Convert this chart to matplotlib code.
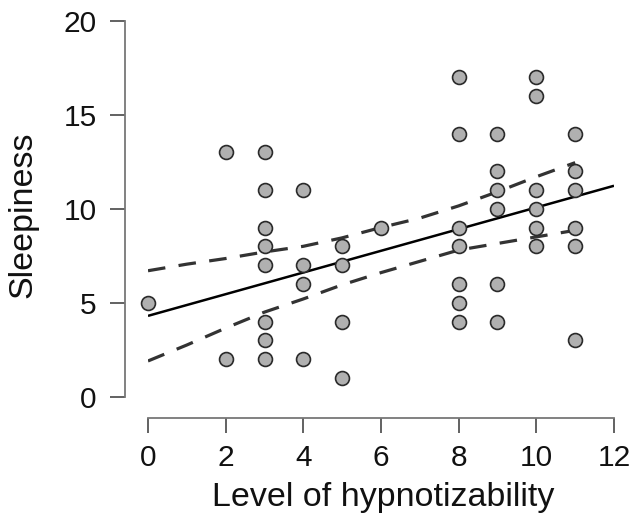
import matplotlib
matplotlib.use("Agg")
import matplotlib.pyplot as plt

plt.rcParams['font.family'] = ['Liberation Sans', 'DejaVu Sans']

# Data
hypno = [0,
         2, 2,
         3, 3, 3, 3, 3, 3, 3, 3,
         4, 4, 4, 4,
         5, 5, 5, 5,
         6,
         8, 8, 8, 8, 8, 8, 8,
         9, 9, 9, 9, 9, 9,
         10, 10, 10, 10, 10, 10,
         11, 11, 11, 11, 11, 11]
sleep = [5,
         13, 2,
         13, 11, 9, 8, 7, 4, 3, 2,
         11, 7, 6, 2,
         8, 7, 4, 1,
         9,
         17, 14, 9, 8, 6, 5, 4,
         14, 12, 11, 10, 6, 4,
         17, 16, 11, 10, 9, 8,
         14, 12, 11, 9, 8, 3]

fit_x = [0, 12]
fit_y = [4.3, 11.22]

ci_x = [0, 1, 2, 3, 4, 5, 6, 7, 8, 9, 10, 11]
ci_upper = [6.7, 7.05, 7.35, 7.7, 8.0, 8.45, 9.0, 9.5, 10.15, 10.9, 11.7, 12.45]
ci_lower = [1.9, 2.75, 3.65, 4.5, 5.2, 5.95, 6.6, 7.2, 7.8, 8.15, 8.5, 8.85]

x_ticks = [0, 2, 4, 6, 8, 10, 12]
y_ticks = [0, 5, 10, 15, 20]

W, H = 632, 528
fig = plt.figure(figsize=(W / 100, H / 100), dpi=100)
ax = fig.add_axes([148 / W, 1 - 396.7 / H, (614 - 148) / W, (396.7 - 20.7) / H])

ax.plot(fit_x, fit_y, color='black', lw=1.8, solid_capstyle='butt', zorder=2)
ax.plot(ci_x, ci_upper, color='#333333', lw=2.3, dashes=(5.5, 4.2), zorder=2)
ax.plot(ci_x, ci_lower, color='#333333', lw=2.3, dashes=(5.5, 4.2), zorder=2)
ax.plot(hypno, sleep, 'o', ms=10, mfc='#b0b0b0', mec='#2a2a2a', mew=1.2,
        clip_on=False, zorder=3)

ax.set_xlim(0, 12)
ax.set_ylim(0, 20)
ax.set_xticks(x_ticks)
ax.set_yticks(y_ticks)

for s in ['top', 'right']:
    ax.spines[s].set_visible(False)
ax.spines['left'].set_position(('outward', 16.5))
ax.spines['bottom'].set_position(('outward', 15))
ax.spines['left'].set_bounds(0, 20)
ax.spines['bottom'].set_bounds(0, 12)
for s in ['left', 'bottom']:
    ax.spines[s].set_color('#777777')
    ax.spines[s].set_linewidth(1.3)

ax.tick_params(axis='both', length=10.5, width=1.3, color='#555555',
               labelsize=21.5, labelcolor='#111111')
ax.tick_params(axis='y', pad=10)
ax.tick_params(axis='x', pad=8.5)

ax.set_xlabel('Level of hypnotizability', fontsize=24.5, color='#111111')
ax.set_ylabel('Sleepiness', fontsize=24.5, color='#111111')
ax.xaxis.set_label_coords(0.504, -0.226)
ax.yaxis.set_label_coords(-0.234, 0.483)

fig.savefig('out.png', dpi=100)
